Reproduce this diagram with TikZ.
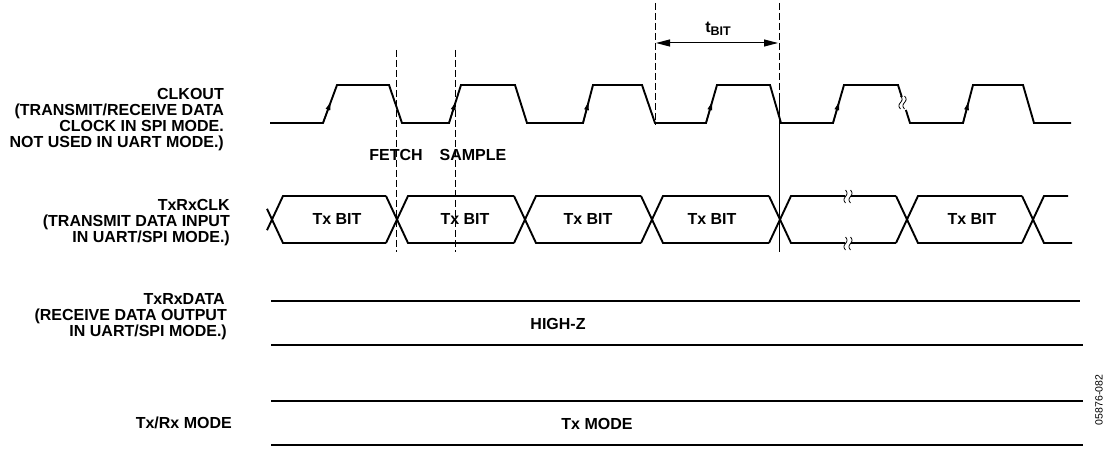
\documentclass[tikz,border=0pt]{standalone}
\usepackage{fontspec}
\setmainfont{Liberation Sans}
\usetikzlibrary{arrows.meta,calc}
\begin{document}
\begin{tikzpicture}[x=1pt,y=-1pt,
  wave/.style={line width=1.9pt, line join=miter},
  guide/.style={line width=0.8pt, dash pattern=on 7pt off 3pt},
  thinguide/.style={line width=0.6pt},
  lbl/.style={font=\fontsize{16}{16}\selectfont\bfseries, align=right, inner sep=0pt},
  txt/.style={font=\fontsize{16}{16}\selectfont\bfseries, inner sep=0pt},
  edgearrow/.style={-{Triangle[length=8pt,width=4.5pt]}, line width=1.2pt},
  dimarrow/.style={{Triangle[length=14pt,width=7pt]}-{Triangle[length=14pt,width=7pt]}, line width=1pt},
  brk/.style={line width=0.8pt}]
\useasboundingbox (0,0) rectangle (1103,449);

% ---------- labels on the left
\node[lbl, anchor=east] (clkout) at (224,120) {CLKOUT\\(TRANSMIT/RECEIVE DATA\hspace*{3pt}\\CLOCK IN SPI MODE.\hspace*{2pt}\\NOT USED IN UART MODE.)};
\node[lbl, anchor=east] (txrxclk) at (230,223) {TxRxCLK\\(TRANSMIT DATA INPUT\hspace*{7pt}\\IN UART/SPI MODE.)};
\node[lbl, anchor=east] (txrxdata) at (227,317) {TxRxDATA\hspace*{2pt}\\(RECEIVE DATA OUTPUT\hspace*{2pt}\\IN UART/SPI MODE.)};
\node[lbl, anchor=east] (mode) at (232,423) {Tx/Rx MODE};

% ---------- CLKOUT waveform
\draw[wave] (270,123) -- (323,123) -- (337,85) -- (389,85) -- (402,123) -- (449,123) -- (461,85) -- (515,85) -- (527,123)
  -- (583,123) -- (593,85) -- (642,85) -- (655,123) -- (706,123) -- (717,85) -- (770,85) -- (781,123)
  -- (833,123) -- (844,85) -- (898,85) -- (901.8,97);
\draw[wave] (905.9,110) -- (910,123) -- (963,123) -- (973,85) -- (1023,85) -- (1034,123) -- (1071,123);
\draw[brk] plot[domain=0:1, samples=25] ({900.5+1.6*sin(360*\x)},{96+\x*13});
\draw[brk] plot[domain=0:1, samples=25] ({904.5+1.6*sin(360*\x)},{96+\x*13});
\foreach \a/\b in {323/337, 449/461, 583/593, 706/717, 833/844, 963/973}
  \draw[edgearrow] (\a,123) -- ($(\a,123)!0.55!(\b,85)$);

% ---------- dashed guides
\coordinate (f1) at (396,50);  \coordinate (f2) at (396,252);
\coordinate (s1) at (455,50);  \coordinate (s2) at (455,252);
\coordinate (b1) at (655,3);   \coordinate (b2) at (655,125);
\coordinate (c1) at (779,3);   \coordinate (c2) at (779,100); \coordinate (c3) at (779,252);
\draw[guide] (f1) -- (f2);
\draw[guide] (s1) -- (s2);
\draw[guide] (b1) -- (b2);
\draw[guide] (c1) -- (c2);
\draw[thinguide] (c2) -- (c3);

% ---------- t_BIT
\coordinate (ta) at (656,43);
\coordinate (tb) at (778,43);
\draw[dimarrow] (ta) -- (tb);
\node[txt] (tbit) at (718,29) {t\raisebox{-2.5pt}{\fontsize{12.5}{12.5}\selectfont BIT}};

\node[txt] (fetch) at (396,155) {FETCH};
\node[txt] (sample) at (473,155) {SAMPLE};

% ---------- TxRxCLK bus
\def\yt{196}\def\yb{243}\def\hw{11}
\draw[wave] (267,208.8) -- (283,\yb) -- (386,\yb);
\draw[wave] (267,230.2) -- (283,\yt) -- (386,\yt);
\foreach \c/\n in {397/525, 525/652, 652/780}{
  \draw[wave] (\c-\hw,\yt) -- (\c+\hw,\yb) -- (\n-\hw,\yb);
  \draw[wave] (\c-\hw,\yb) -- (\c+\hw,\yt) -- (\n-\hw,\yt);
}
\draw[wave] (769,\yt) -- (791,\yb) -- (845,\yb);
\draw[wave] (851,\yb) -- (896,\yb);
\draw[wave] (769,\yb) -- (791,\yt) -- (845,\yt);
\draw[wave] (851,\yt) -- (896,\yt);
\draw[brk] plot[domain=0:1, samples=25] ({845.5+1.5*sin(360*\x)},{190+\x*13});
\draw[brk] plot[domain=0:1, samples=25] ({850.5+1.5*sin(360*\x)},{190+\x*13});
\draw[brk] plot[domain=0:1, samples=25] ({845.5+1.5*sin(360*\x)},{237+\x*13});
\draw[brk] plot[domain=0:1, samples=25] ({850.5+1.5*sin(360*\x)},{237+\x*13});
\draw[wave] (896,\yt) -- (918,\yb) -- (1022,\yb);
\draw[wave] (896,\yb) -- (918,\yt) -- (1022,\yt);
\draw[wave] (1022,\yt) -- (1044,\yb) -- (1072,\yb);
\draw[wave] (1022,\yb) -- (1044,\yt) -- (1068,\yt);

\node[txt] (bit1) at (337,219) {Tx BIT};
\node[txt] (bit2) at (465,219) {Tx BIT};
\node[txt] (bit3) at (588,219) {Tx BIT};
\node[txt] (bit4) at (712,219) {Tx BIT};
\node[txt] (bit5) at (972,219) {Tx BIT};

% ---------- TxRxDATA and Tx/Rx MODE
\draw[wave] (271,301) -- (1080,301);
\draw[wave] (271,345) -- (1083,345);
\draw[wave] (271,401) -- (1083,401);
\draw[wave] (271,445) -- (1083,445);
\node[txt] (highz) at (558,324) {HIGH-Z};
\node[txt] (txmode) at (597,424) {Tx MODE};

\node[rotate=90, font=\fontsize{10.5}{10.5}\selectfont, inner sep=0pt] (fig) at (1099,400) {05876-082};
\end{tikzpicture}
\end{document}
